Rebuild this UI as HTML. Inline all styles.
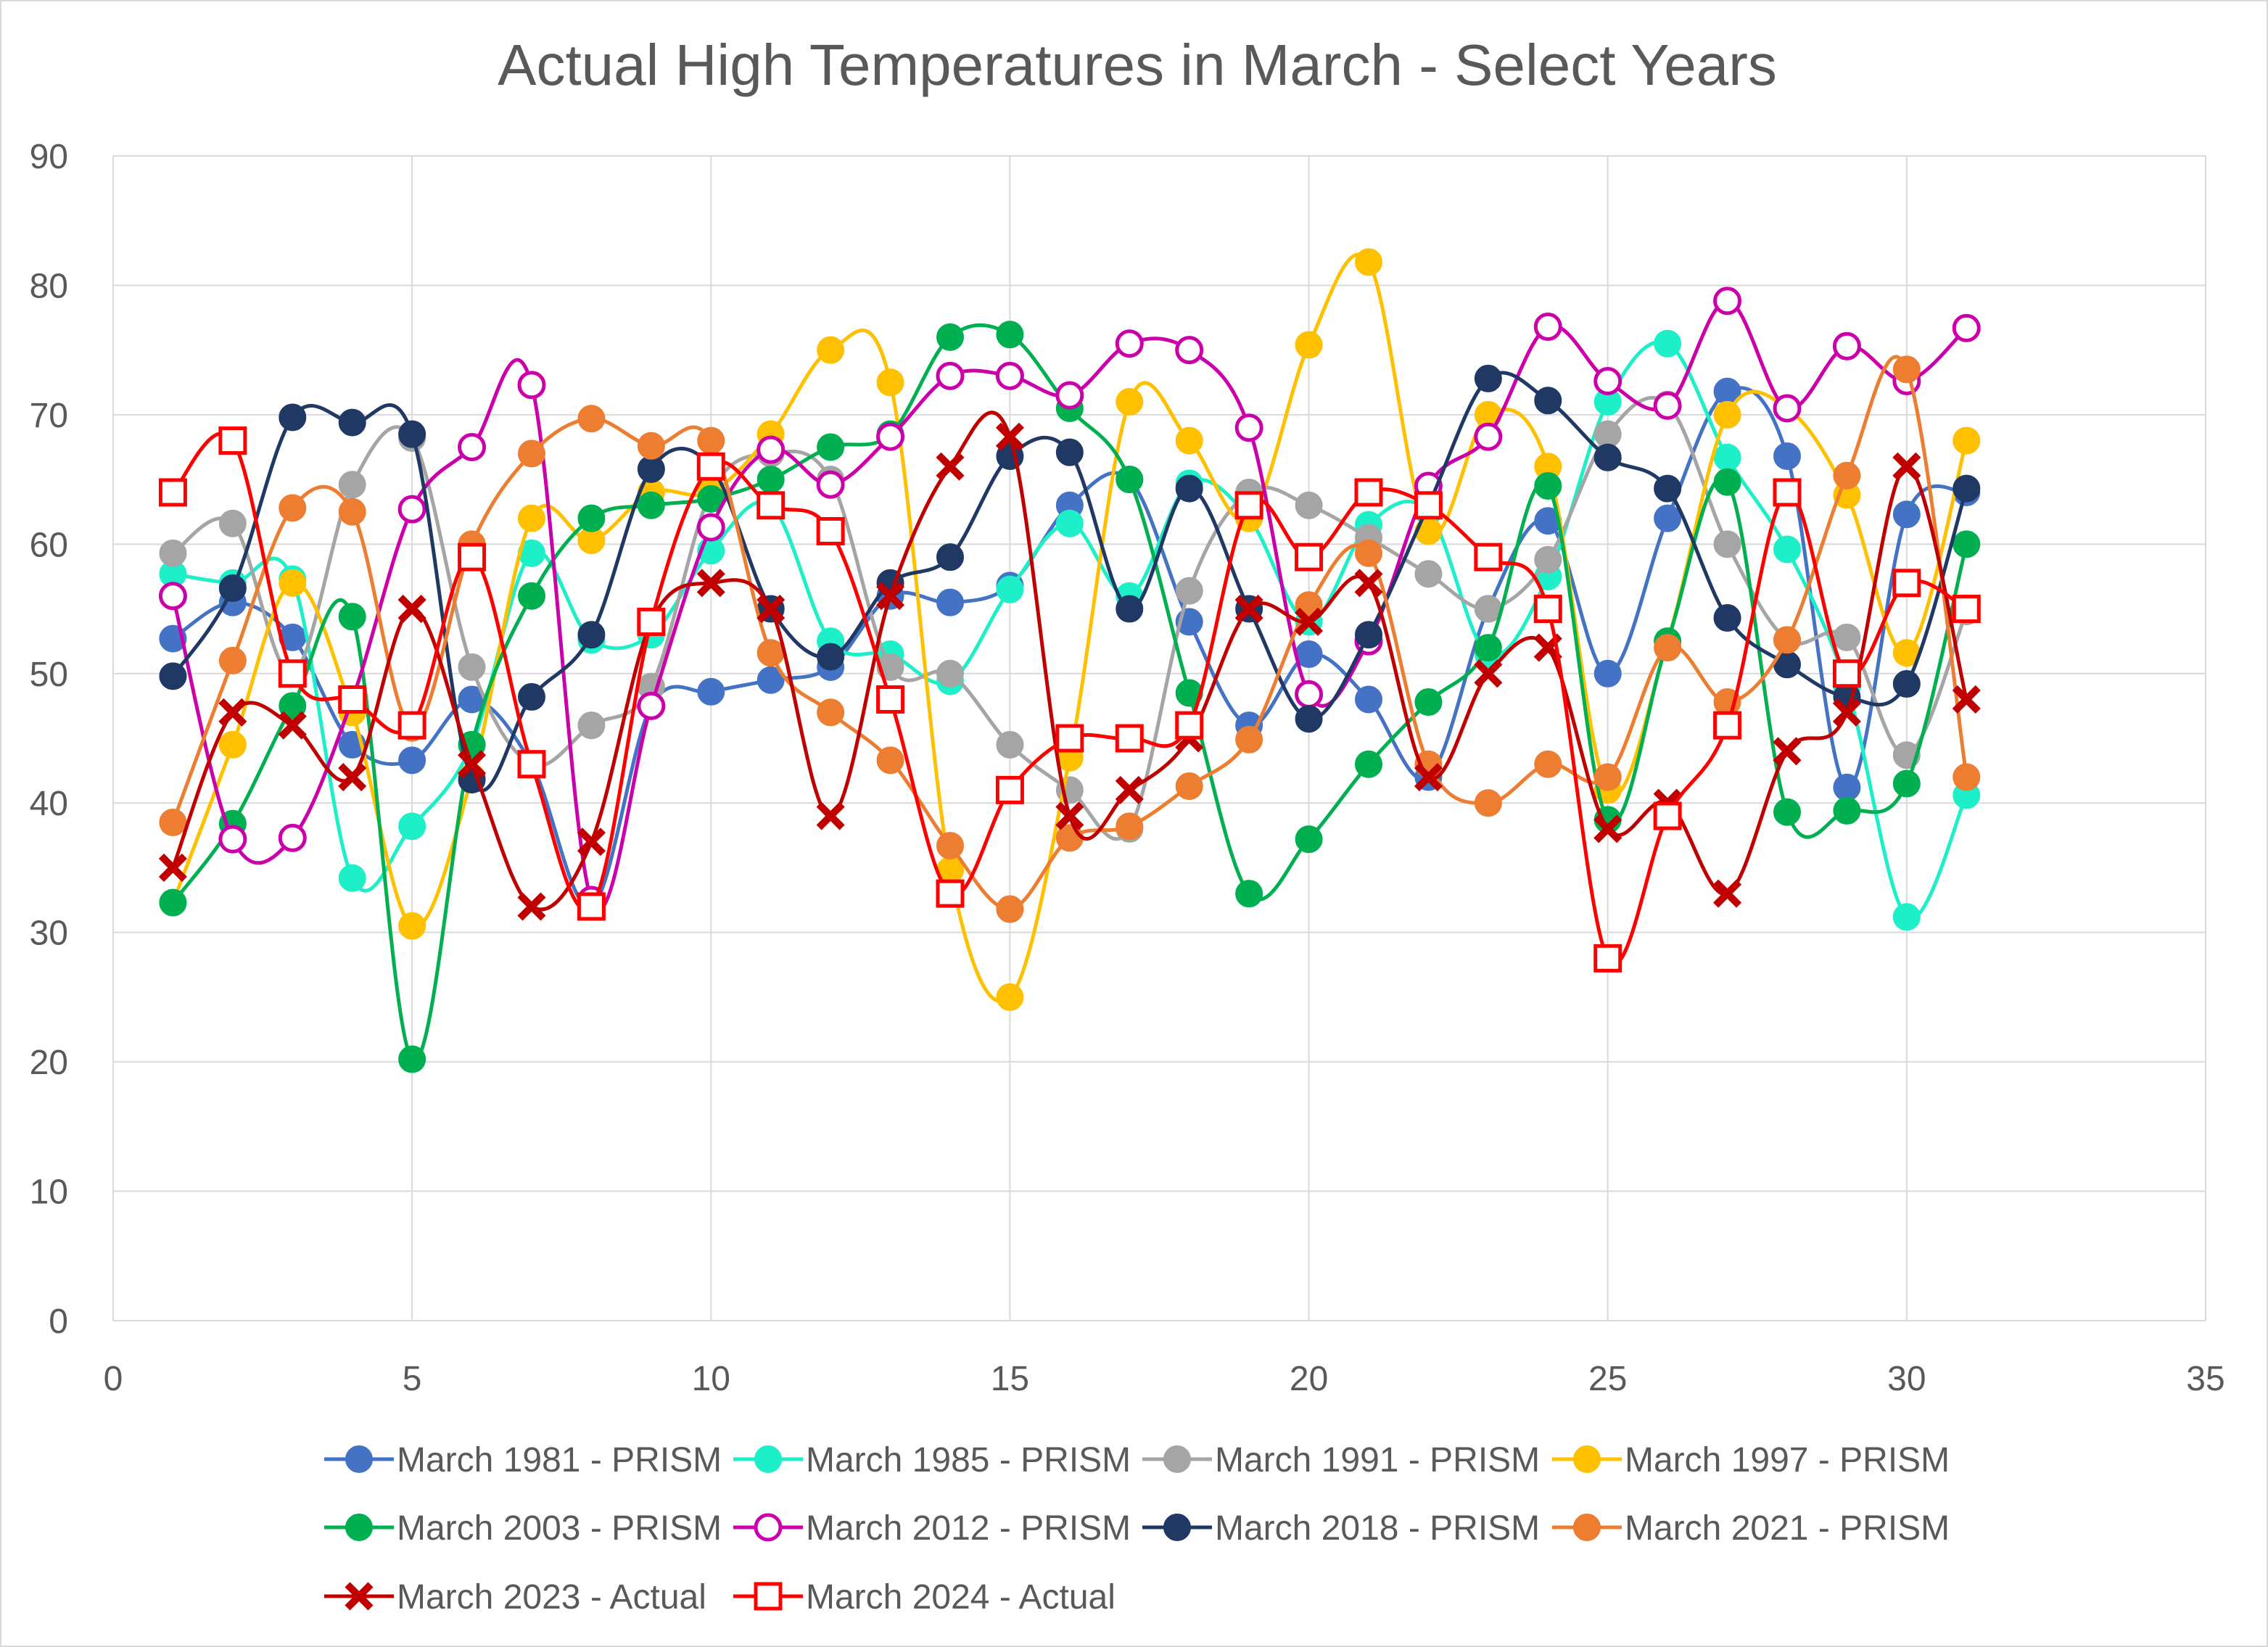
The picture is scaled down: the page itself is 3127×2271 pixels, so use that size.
<!DOCTYPE html>
<html><head><meta charset="utf-8"><style>
html,body{margin:0;padding:0;background:#fff;}
svg{display:block;font-family:"Liberation Sans",Arial,sans-serif;}
</style></head><body>
<svg id="chart" width="3127" height="2271" viewBox="0 0 3127 2271">
<rect x="1" y="1" width="3125" height="2269" fill="#fff" stroke="#d9d9d9" stroke-width="2"/>
<text x="1568" y="117" text-anchor="middle" font-size="80" fill="#595959">Actual High Temperatures in March - Select Years</text>
<g id="grid"></g><g id="axes"></g><g id="series"></g><g id="legend"></g>
</svg>
<script>
const days = Array.from({length:31},(_,i)=>i+1);
const xTicks = [0,5,10,15,20,25,30,35];
const yTicks = [0,10,20,30,40,50,60,70,80,90];
const names = ["March 1981 - PRISM","March 1985 - PRISM","March 1991 - PRISM","March 1997 - PRISM","March 2003 - PRISM","March 2012 - PRISM","March 2018 - PRISM","March 2021 - PRISM","March 2023 - Actual","March 2024 - Actual"];
const colors = ["#4472C4","#1DF0C8","#A5A5A5","#FFC000","#00B050","#CC00AA","#203864","#ED7D31","#C00000","#FF0000"];
const markers = ["dot","dot","dot","dot","dot","ring","dot","dot","x","square"];
const s1981 = [52.7,55.5,52.8,44.5,43.3,48,43,32,47.5,48.6,49.5,50.5,56,55.5,56.8,63,65,54,46,51.5,48,42,55,61.8,50,62,71.8,66.8,41.2,62.3,64];
const s1985 = [57.7,57,57.3,34.2,38.2,44.5,59.3,52.6,53,59.5,63,52.5,51.5,49.4,56.5,61.6,56,64.7,62,54,61.5,62.5,51.5,57.5,71,75.5,66.7,59.6,49,31.2,40.6];
const s1991 = [59.3,61.6,50,64.6,68.2,50.5,43,46,49,64,67,65,50.5,50,44.5,41,38,56.4,64,63,60.5,57.7,55,58.8,68.5,70.8,60,52.6,52.8,43.7,54.8];
const s1997 = [32.3,44.5,57,47,30.5,42,62,60.3,64,64,68.5,75,72.5,34.8,25,43.5,71,68,62,75.4,81.8,61,70,66,41,52.5,70,70.5,63.8,51.6,68];
const s2003 = [32.3,38.4,47.5,54.4,20.2,44.5,56,62,63,63.5,65,67.5,68.5,76,76.2,70.5,65,48.5,33,37.2,43,47.8,52,64.5,38.7,52.5,64.8,39.3,39.4,41.5,60];
const s2012 = [56,37.2,37.3,48,62.7,67.5,72.3,32.5,47.5,61.3,67.3,64.6,68.3,73,73,71.5,75.5,75,69,48.4,52.5,64.5,68.3,76.8,72.6,70.7,78.8,70.5,75.3,72.6,76.7];
const s2018 = [49.8,56.6,69.8,69.4,68.5,41.8,48.2,53,65.8,66,55,51.3,57,59,66.8,67.1,55,64.3,55,46.5,53,63,72.8,71.1,66.7,64.3,54.3,50.7,48.2,49.2,64.3];
const s2021 = [38.5,51,62.8,62.5,45.8,60,67,69.7,67.6,68,51.6,47,43.3,36.7,31.8,37.3,38.2,41.3,44.9,55.3,59.3,43,40,43,42,52,47.8,52.6,65.3,73.5,42];
const s2023 = [35,47,46,42,55,43,32,37,54,57,55,39,56,66,68.3,39,41,45,55,54,57,42,50,52,38,40,33,44,47,66,48];
const s2024 = [64,68,50,48,46,59,43,32,54,66,63,61,48,33,41,45,45,46,63,59,64,63,59,55,28,39,46,64,50,57,55];
const allSeries = [s1981,s1985,s1991,s1997,s2003,s2012,s2018,s2021,s2023,s2024];
const NS="http://www.w3.org/2000/svg";
const X0=156,X1=3041,Y0=1821,Y1=215;
const xs=v=>X0+(v-0)/35*(X1-X0);
const ys=v=>Y0-(v/90)*(Y0-Y1);
function mk(tag,attrs,parent){const e=document.createElementNS(NS,tag);for(const k in attrs)e.setAttribute(k,attrs[k]);parent.appendChild(e);return e;}
const grid=document.getElementById('grid'),axes=document.getElementById('axes'),ser=document.getElementById('series'),leg=document.getElementById('legend');
yTicks.forEach(t=>{
  const l=mk('line',{x1:X0,x2:X1,y1:ys(t),y2:ys(t),stroke:'#d9d9d9','stroke-width':2},grid);
  
  
  const tx=mk('text',{x:94,y:ys(t)+17,'text-anchor':'end','font-size':48,fill:'#595959'},axes);
  tx.textContent=t;
  
  
});
xTicks.forEach(t=>{
  const l=mk('line',{x1:xs(t),x2:xs(t),y1:Y0,y2:Y1,stroke:'#d9d9d9','stroke-width':2},grid);
  
  
  const tx=mk('text',{x:xs(t),y:1917,'text-anchor':'middle','font-size':48,fill:'#595959'},axes);
  tx.textContent=t;
  
  
});
function drawMarker(type,cx,cy,c,parent){
  let e;
  if(type==='dot') e=mk('circle',{cx,cy,r:18,fill:c,stroke:c,'stroke-width':2},parent);
  else if(type==='ring') e=mk('circle',{cx,cy,r:17,fill:'#fff',stroke:c,'stroke-width':5},parent);
  else if(type==='square') e=mk('rect',{x:cx-17,y:cy-17,width:34,height:34,fill:'#fff',stroke:c,'stroke-width':5},parent);
  else {e=mk('path',{d:`M${cx-16},${cy-16}L${cx+16},${cy+16}M${cx-16},${cy+16}L${cx+16},${cy-16}`,stroke:c,'stroke-width':10,fill:'none'},parent);}
  return e;
}
allSeries.forEach((s,si)=>{
  const g=mk('g',{},ser);
  
  
  const P=s.map((v,i)=>[xs(days[i]),ys(v)]);
  let d=`M${P[0][0]},${P[0][1]}`;
  for(let i=0;i<P.length-1;i++){
    const p0=P[Math.max(0,i-1)],p1=P[i],p2=P[i+1],p3=P[Math.min(P.length-1,i+2)];
    const c1=[p1[0]+(p2[0]-p0[0])/6,p1[1]+(p2[1]-p0[1])/6];
    const c2=[p2[0]-(p3[0]-p1[0])/6,p2[1]-(p3[1]-p1[1])/6];
    d+=`C${c1[0]},${c1[1]} ${c2[0]},${c2[1]} ${p2[0]},${p2[1]}`;
  }
  const path=mk('path',{d,fill:'none',stroke:colors[si],'stroke-width':5},g);
  
  
  P.forEach(p=>{
    const m=drawMarker(markers[si],p[0],p[1],colors[si],g);
    
    
  });
});
const colX=[447,1011,1575,2140], rowY=[2012,2106,2201];
names.forEach((n,i)=>{
  const cx=colX[i%4], cy=rowY[Math.floor(i/4)];
  const g=mk('g',{},leg);
  
  
  mk('line',{x1:cx,x2:cx+96,y1:cy,y2:cy,stroke:colors[i],'stroke-width':5},g);
  drawMarker(markers[i],cx+48,cy,colors[i],g);
  const t=mk('text',{x:cx+100,y:cy+17,'font-size':48,fill:'#595959'},g);
  t.textContent=n;
});
</script>
</body></html>
